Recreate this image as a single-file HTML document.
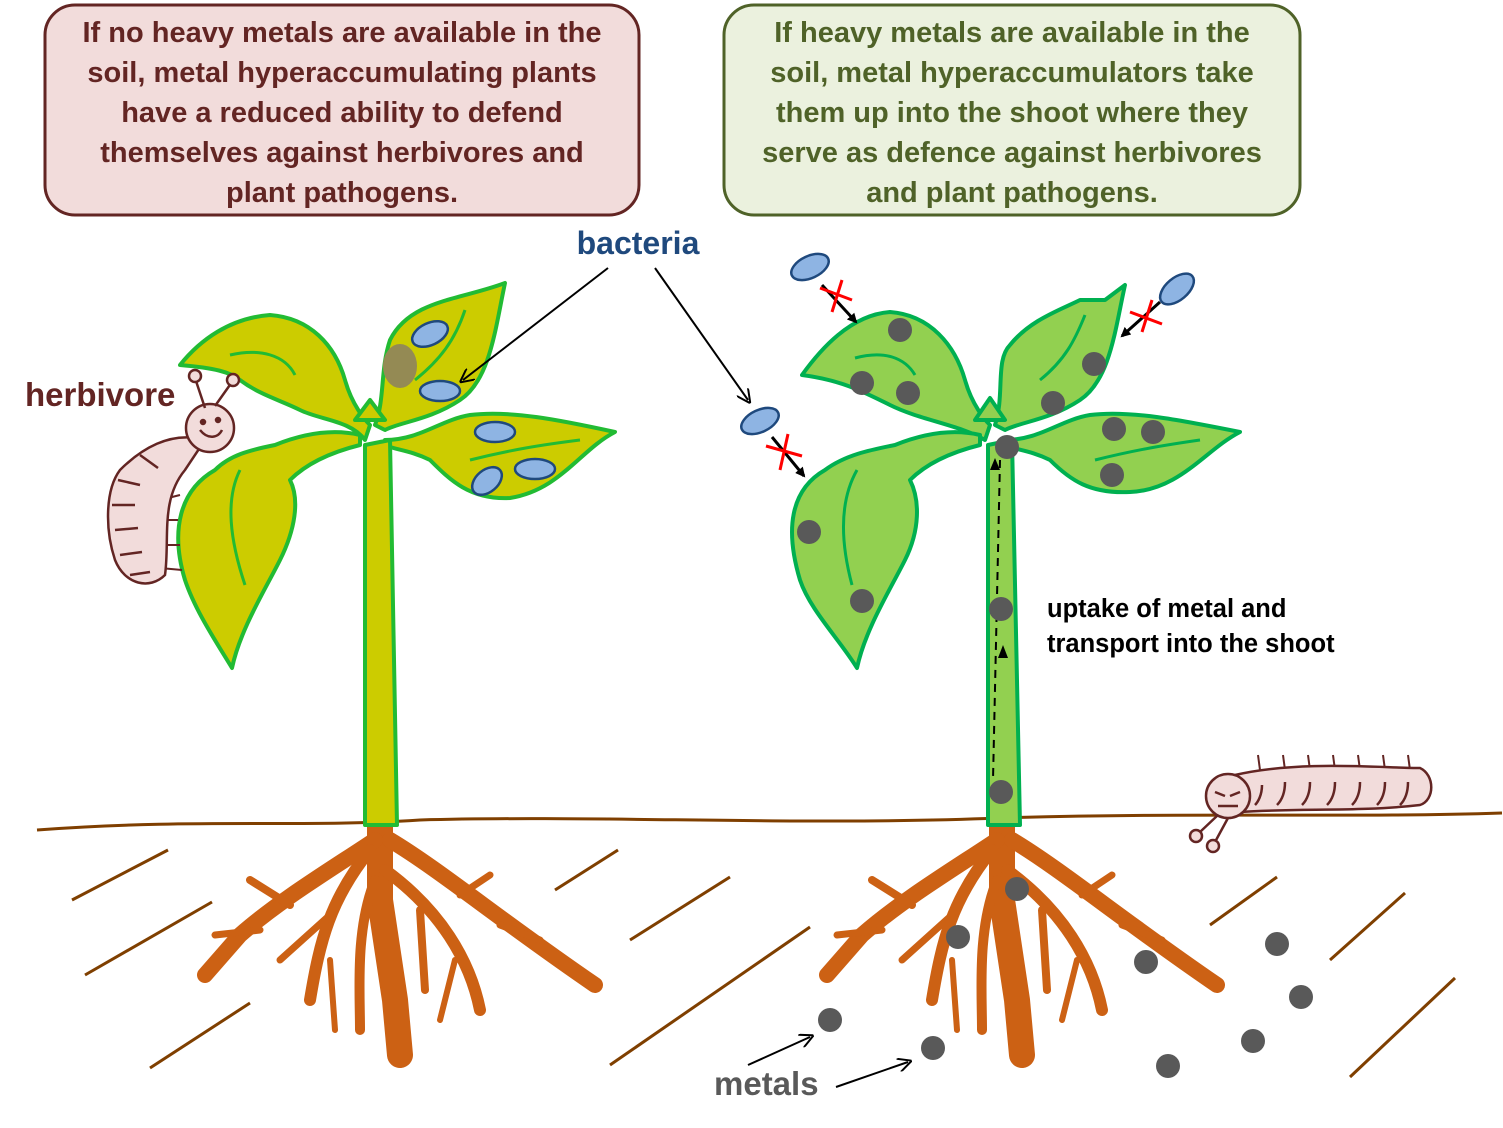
<!DOCTYPE html>
<html><head><meta charset="utf-8"><style>
html,body{margin:0;padding:0;background:#fff}
svg{display:block}
text{font-family:"Liberation Sans",sans-serif;font-weight:bold}
</style></head><body>
<svg width="1503" height="1128" viewBox="0 0 1503 1128" xmlns="http://www.w3.org/2000/svg">
<defs>
<marker id="ah" markerWidth="10" markerHeight="10" refX="8" refY="5" orient="auto" markerUnits="userSpaceOnUse"><path d="M0,0 L10,5 L0,10 Z" fill="#000"/></marker>
<marker id="ah2" markerWidth="14" markerHeight="14" refX="10" refY="7" orient="auto" markerUnits="userSpaceOnUse"><path d="M0,0 L14,7 L0,14" fill="none" stroke="#000" stroke-width="2"/></marker>
</defs>
<rect x="45" y="5" width="594" height="210" rx="30" fill="#f2dcdb" stroke="#632523" stroke-width="3"/>
<g fill="#632523" font-size="29" text-anchor="middle">
<text x="342" y="42">If no heavy metals are available in the</text>
<text x="342" y="82">soil, metal hyperaccumulating plants</text>
<text x="342" y="122">have a reduced ability to defend</text>
<text x="342" y="162">themselves against herbivores and</text>
<text x="342" y="202">plant pathogens.</text>
</g>
<rect x="724" y="5" width="576" height="210" rx="30" fill="#ebf1de" stroke="#4f6228" stroke-width="3"/>
<g fill="#4f6228" font-size="29" text-anchor="middle">
<text x="1012" y="42">If heavy metals are available in the</text>
<text x="1012" y="82">soil, metal hyperaccumulators take</text>
<text x="1012" y="122">them up into the shoot where they</text>
<text x="1012" y="162">serve as defence against herbivores</text>
<text x="1012" y="202">and plant pathogens.</text>
</g>
<text x="638" y="254" fill="#1f497d" font-size="32" text-anchor="middle">bacteria</text>
<text x="25" y="406" fill="#632523" font-size="33">herbivore</text>

<path d="M37,830 C200,818 300,828 420,820 C600,815 800,826 1000,818 C1200,812 1350,818 1502,813" fill="none" stroke="#7f3f00" stroke-width="3"/>
<g stroke="#7f3f00" stroke-width="3">
<line x1="72" y1="900" x2="168" y2="850"/><line x1="85" y1="975" x2="212" y2="902"/><line x1="150" y1="1068" x2="250" y2="1003"/>
<line x1="555" y1="890" x2="618" y2="850"/><line x1="630" y1="940" x2="730" y2="877"/><line x1="610" y1="1065" x2="810" y2="927"/>
<line x1="1210" y1="925" x2="1277" y2="877"/><line x1="1330" y1="960" x2="1405" y2="893"/><line x1="1350" y1="1077" x2="1455" y2="978"/>
</g>

<g id="roots" fill="none" stroke="#cc6114" stroke-linecap="round" stroke-linejoin="round">
<path d="M380,825 L380,900 L395,1000 L400,1055" stroke-width="26"/>
<path d="M375,840 C330,870 280,900 240,935 L205,975" stroke-width="16"/>
<path d="M390,840 C440,870 500,920 595,985" stroke-width="16"/>
<path d="M370,850 C330,900 320,940 310,1000" stroke-width="12"/>
<path d="M385,870 C440,910 470,960 480,1010" stroke-width="12"/>
<path d="M375,880 C355,930 360,990 360,1030" stroke-width="10"/>
<path d="M290,905 L250,880" stroke-width="8"/><path d="M260,930 L215,935" stroke-width="7"/>
<path d="M330,915 L280,960" stroke-width="7"/><path d="M460,895 L490,875" stroke-width="7"/>
<path d="M500,925 L540,940" stroke-width="7"/><path d="M420,910 L425,990" stroke-width="8"/>
<path d="M330,960 L335,1030" stroke-width="6"/><path d="M455,960 L440,1020" stroke-width="6"/>
</g>
<use href="#roots" x="622"/>

<g fill="#cccc00" stroke="#22bb33" stroke-width="4" stroke-linejoin="round">
<path d="M365,440 C350,420 320,420 300,410 C280,400 260,395 240,380 C230,372 215,368 180,365 C200,340 230,318 270,315 C310,318 335,345 345,380 C352,405 365,420 370,425 Z"/>
<path d="M375,425 C385,400 380,370 390,340 C410,300 460,300 505,283 C495,330 490,380 460,400 C430,420 400,422 385,430 Z"/>
<path d="M385,440 C420,440 440,420 470,415 C510,410 560,420 615,432 C580,450 560,490 510,498 C470,500 450,480 430,460 C410,450 395,450 385,445 Z"/>
<path d="M360,435 C330,428 300,435 275,445 C250,450 230,455 215,470 C180,490 170,530 185,580 C195,610 215,640 232,668 C240,630 265,590 280,560 C295,530 300,500 290,480 C310,460 340,450 360,445 Z"/>
<path d="M365,445 L365,825 L397,825 L390,440 Z"/>
<path d="M355,420 L370,400 L385,420 Z"/>
</g>
<g fill="none" stroke="#22bb33" stroke-width="3">
<path d="M230,355 C260,348 285,355 295,375"/>
<path d="M415,380 C440,360 455,340 465,310"/>
<path d="M470,460 C510,450 540,445 580,440"/>
<path d="M245,585 C230,540 225,500 240,470"/>
</g>
<ellipse cx="400" cy="366" rx="17" ry="22" fill="#948a54"/>
<g fill="#8eb4e3" stroke="#1f497d" stroke-width="2.5">
<ellipse cx="430" cy="334" rx="19" ry="11" transform="rotate(-25 430 334)"/>
<ellipse cx="440" cy="391" rx="20" ry="10"/>
<ellipse cx="495" cy="432" rx="20" ry="10"/>
<ellipse cx="535" cy="469" rx="20" ry="10"/>
<ellipse cx="487" cy="481" rx="17" ry="11" transform="rotate(-40 487 481)"/>
</g>

<g fill="#92d050" stroke="#00b050" stroke-width="4" stroke-linejoin="round">
<path d="M985,440 C960,425 920,420 890,405 C860,390 840,380 802,375 C820,350 850,315 890,312 C930,315 955,345 965,380 C972,405 985,420 990,425 Z"/>
<path d="M995,425 C1005,395 995,360 1010,345 C1030,320 1060,310 1080,300 L1105,300 L1125,285 C1115,330 1110,380 1080,400 C1050,420 1020,422 1005,430 Z"/>
<path d="M1005,440 C1040,440 1060,420 1090,415 C1130,410 1180,420 1240,432 C1205,450 1180,490 1130,492 C1090,494 1070,480 1050,460 C1030,450 1015,450 1005,445 Z"/>
<path d="M980,435 C950,428 920,435 895,445 C870,450 845,455 825,470 C790,490 785,530 800,580 C810,610 840,640 857,668 C865,630 890,590 905,560 C920,530 920,500 910,480 C930,460 960,450 980,445 Z"/>
<path d="M988,445 L988,825 L1020,825 L1012,440 Z"/>
<path d="M975,420 L990,398 L1005,420 Z"/>
</g>
<g fill="none" stroke="#00b050" stroke-width="3">
<path d="M855,358 C885,350 905,358 915,375"/>
<path d="M1040,380 C1065,360 1075,340 1085,315"/>
<path d="M1095,460 C1135,450 1165,445 1200,440"/>
<path d="M852,585 C840,540 840,500 857,470"/>
</g>
<path d="M1000,460 L993,780" stroke="#000" stroke-width="2" stroke-dasharray="8,6" fill="none"/>
<path d="M990,470 L995,458 L1000,470 Z" fill="#000"/>
<path d="M998,658 L1003,645 L1008,658 Z" fill="#000"/>

<g fill="#595959">
<circle cx="830" cy="1020" r="12"/><circle cx="933" cy="1048" r="12"/><circle cx="1017" cy="889" r="12"/>
<circle cx="958" cy="937" r="12"/><circle cx="1146" cy="962" r="12"/><circle cx="1277" cy="944" r="12"/>
<circle cx="1301" cy="997" r="12"/><circle cx="1253" cy="1041" r="12"/><circle cx="1168" cy="1066" r="12"/>
<circle cx="1007" cy="447" r="12"/><circle cx="1001" cy="609" r="12"/><circle cx="1001" cy="792" r="12"/>
<circle cx="900" cy="330" r="12"/><circle cx="862" cy="383" r="12"/><circle cx="908" cy="393" r="12"/>
<circle cx="1094" cy="364" r="12"/><circle cx="1053" cy="403" r="12"/><circle cx="1114" cy="429" r="12"/>
<circle cx="1153" cy="432" r="12"/><circle cx="1112" cy="475" r="12"/><circle cx="809" cy="532" r="12"/>
<circle cx="862" cy="601" r="12"/>
</g>

<g fill="#8eb4e3" stroke="#1f497d" stroke-width="2.5">
<ellipse cx="810" cy="267" rx="20" ry="11" transform="rotate(-25 810 267)"/>
<ellipse cx="760" cy="421" rx="20" ry="11" transform="rotate(-25 760 421)"/>
<ellipse cx="1177" cy="289" rx="20" ry="11" transform="rotate(-40 1177 289)"/>
</g>
<g stroke="#000" stroke-width="3" marker-end="url(#ah)">
<line x1="822" y1="285" x2="856" y2="322"/>
<line x1="772" y1="437" x2="804" y2="476"/>
<line x1="1160" y1="302" x2="1122" y2="336"/>
</g>
<g stroke="#ff0000" stroke-width="3">
<line x1="820" y1="288" x2="852" y2="300"/><line x1="832" y1="312" x2="842" y2="280"/>
<line x1="766" y1="446" x2="802" y2="456"/><line x1="780" y1="470" x2="788" y2="434"/>
<line x1="1130" y1="312" x2="1162" y2="324"/><line x1="1142" y1="332" x2="1152" y2="300"/>
</g>
<g stroke="#000" stroke-width="2" fill="none" marker-end="url(#ah2)">
<line x1="608" y1="268" x2="463" y2="380"/>
<line x1="655" y1="268" x2="748" y2="400"/>
<line x1="748" y1="1065" x2="810" y2="1037"/>
<line x1="836" y1="1087" x2="908" y2="1062"/>
</g>
<text x="1047" y="617" font-size="25.5" fill="#000">uptake of metal and</text>
<text x="1047" y="652" font-size="25.5" fill="#000">transport into the shoot</text>
<text x="714" y="1095" font-size="33" fill="#595959">metals</text>

<g stroke="#632523" stroke-width="2.5" fill="#f2dcdb">
<g stroke-width="2">
<line x1="160" y1="500" x2="180" y2="495"/><line x1="160" y1="520" x2="178" y2="520"/><line x1="160" y1="545" x2="180" y2="545"/><line x1="160" y1="568" x2="182" y2="570"/>
</g>
<path d="M205,440 C170,430 140,450 120,470 C105,490 105,530 115,560 C125,585 150,590 165,575 C170,540 160,500 185,470 Z"/>
<path d="M118,480 L140,485 M112,505 L135,505 M115,530 L138,528 M120,555 L142,552 M130,575 L150,572 M140,455 L158,468" fill="none"/>
<circle cx="210" cy="428" r="24"/>
<path d="M205,408 L195,378 M215,406 L232,382" fill="none"/>
<circle cx="195" cy="376" r="6"/><circle cx="233" cy="380" r="6"/>
<path d="M200,430 C208,440 218,438 222,430" fill="none"/>
<circle cx="203" cy="422" r="2" fill="#632523"/><circle cx="218" cy="420" r="2" fill="#632523"/>
</g>
<g stroke="#632523" stroke-width="2.5" fill="#f2dcdb">
<g stroke-width="2"><line x1="1260" y1="770" x2="1258" y2="755"/><line x1="1285" y1="770" x2="1283" y2="755"/><line x1="1310" y1="770" x2="1308" y2="755"/><line x1="1335" y1="770" x2="1333" y2="755"/><line x1="1360" y1="770" x2="1358" y2="755"/><line x1="1385" y1="770" x2="1383" y2="755"/><line x1="1410" y1="770" x2="1408" y2="755"/></g>
<path d="M1235,775 C1300,760 1380,768 1420,768 C1435,775 1435,800 1420,805 C1360,812 1300,808 1240,812 Z"/>
<path d="M1262,785 C1262,795 1258,802 1255,805 M1285,782 C1285,795 1280,802 1277,805 M1310,782 C1310,795 1305,802 1302,805 M1335,782 C1335,795 1330,802 1327,805 M1360,782 C1360,795 1355,802 1352,805 M1385,782 C1385,795 1380,802 1377,805 M1408,782 C1408,795 1403,802 1400,805" fill="none"/>
<circle cx="1228" cy="796" r="22"/>
<path d="M1218,815 L1200,832 M1228,818 L1215,842" fill="none"/>
<circle cx="1196" cy="836" r="6"/><circle cx="1213" cy="846" r="6"/>
<path d="M1215,792 L1225,796 M1240,792 L1230,796 M1218,806 L1238,806" fill="none"/>
</g>
</svg>
</body></html>
